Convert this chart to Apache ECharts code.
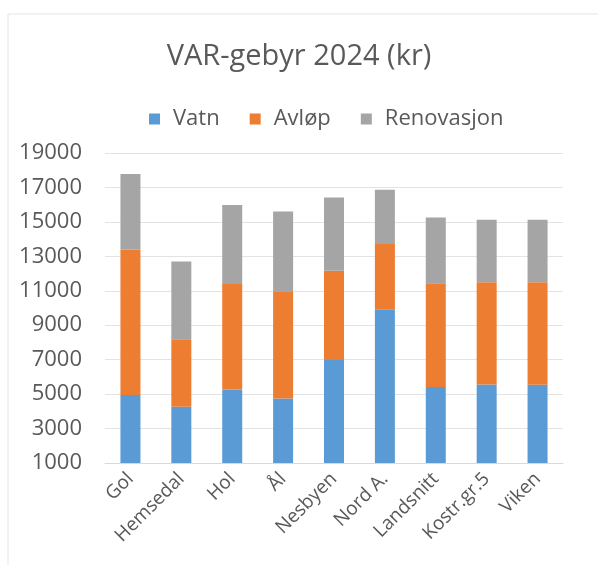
<!DOCTYPE html>
<html><head><meta charset="utf-8">
<script src="https://cdn.jsdelivr.net/npm/echarts@6/dist/echarts.min.js"></script>
<style>html,body{margin:0;padding:0;background:#fff}#c{width:598px;height:565px}</style>
</head><body><div id="c"></div>
<script>
const categories = ['Gol','Hemsedal','Hol','Ål','Nesbyen','Nord A.','Landsnitt','Kostr.gr.5','Viken'];
const vatn = [4950, 4260, 5270, 4750, 6980, 9930, 5420, 5560, 5540];
const avlop = [8430, 3920, 6130, 6180, 5190, 3780, 6020, 5940, 5960];
const renovasjon = [4400, 4520, 4580, 4680, 4250, 3160, 3820, 3620, 3620];
const yTicks = [1000, 3000, 5000, 7000, 9000, 11000, 13000, 15000, 17000, 19000];

const font = 'Open Sans';
const chart = echarts.init(document.getElementById('c'));
chart.setOption({
  animation: false,
  backgroundColor: '#fff',
  graphic: [{type:'rect', shape:{x:8, y:14, width:600, height:560}, style:{fill:'none', stroke:'#e4e4e4', lineWidth:1}, silent:true}],
  title: {text: 'VAR-gebyr 2024 (kr)', left: 'center', top: 37,
    textStyle: {fontFamily: font, fontSize: 29, fontWeight: 'normal', color: '#595959'}},
  legend: {top: 103, left: 144, itemWidth: 11, itemHeight: 11, itemGap: 30, icon: 'rect',
    textStyle: {fontFamily: font, fontSize: 22, color: '#595959', padding: [0, 0, 0, 8]}},
  grid: {left: 105, right: 35, top: 153, bottom: 102, containLabel: false},
  xAxis: {type: 'category', data: categories,
    axisLine: {lineStyle: {color: '#d9d9d9'}}, axisTick: {show: false},
    axisLabel: {rotate: 45, fontFamily: font, fontSize: 19, color: '#595959', margin: 13, interval: 0}},
  yAxis: {type: 'value', min: yTicks[0], max: yTicks[yTicks.length-1], interval: 2000,
    axisLine: {show: false}, axisTick: {show: false},
    splitLine: {lineStyle: {color: '#e3e3e3'}},
    axisLabel: {fontFamily: font, fontSize: 22, color: '#595959', margin: 23, formatter: v => String(v)}},
  series: [
    {name: 'Vatn', type: 'bar', stack: 's', data: vatn, barWidth: 20, itemStyle: {color: '#5B9BD5'}},
    {name: 'Avløp', type: 'bar', stack: 's', data: avlop, itemStyle: {color: '#ED7D31'}},
    {name: 'Renovasjon', type: 'bar', stack: 's', data: renovasjon, itemStyle: {color: '#A5A5A5'}}
  ]
});
</script></body></html>
